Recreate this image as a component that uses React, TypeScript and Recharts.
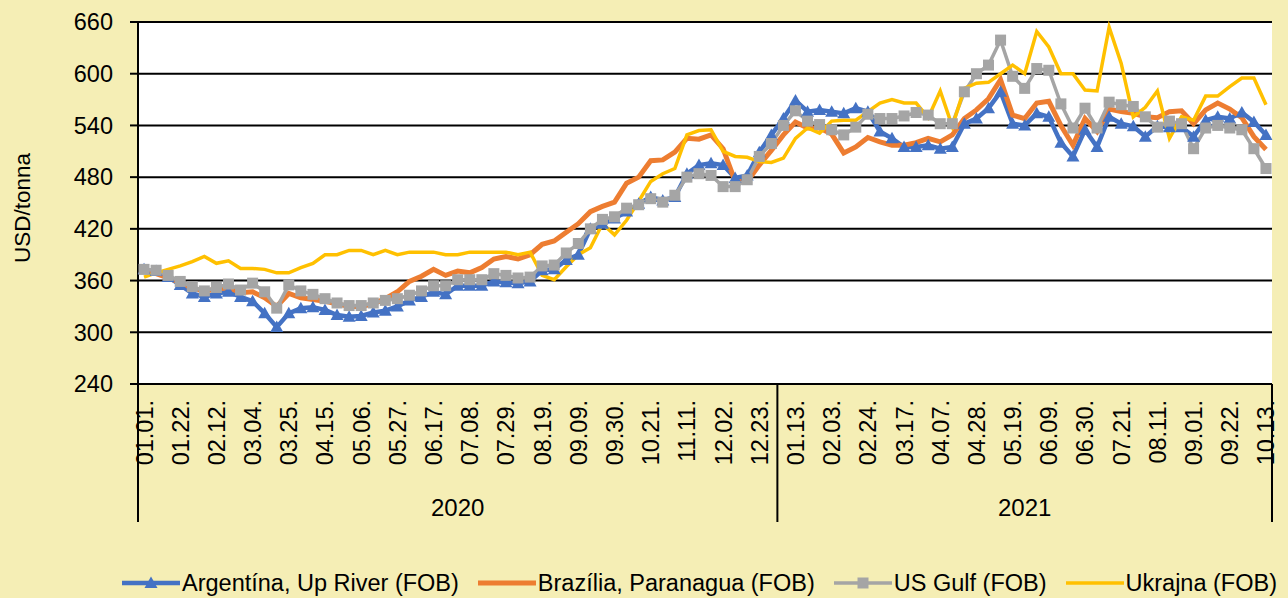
import {
  CartesianGrid,
  Label,
  Legend,
  Line,
  LineChart,
  XAxis,
  YAxis,
} from "recharts";

// weekly quotes, Wednesdays
const dates2020 = [
  "01.01.", "01.08.", "01.15.", "01.22.", "01.29.", "02.05.", "02.12.", "02.19.", "02.26.",
  "03.04.", "03.11.", "03.18.", "03.25.", "04.01.", "04.08.", "04.15.", "04.22.", "04.29.",
  "05.06.", "05.13.", "05.20.", "05.27.", "06.03.", "06.10.", "06.17.", "06.24.", "07.01.",
  "07.08.", "07.15.", "07.22.", "07.29.", "08.05.", "08.12.", "08.19.", "08.26.", "09.02.",
  "09.09.", "09.16.", "09.23.", "09.30.", "10.07.", "10.14.", "10.21.", "10.28.", "11.04.",
  "11.11.", "11.18.", "11.25.", "12.02.", "12.09.", "12.16.", "12.23.", "12.30.",
];
const dates2021 = [
  "01.06.", "01.13.", "01.20.", "01.27.", "02.03.", "02.10.", "02.17.", "02.24.", "03.03.",
  "03.10.", "03.17.", "03.24.", "03.31.", "04.07.", "04.14.", "04.21.", "04.28.", "05.05.",
  "05.12.", "05.19.", "05.26.", "06.02.", "06.09.", "06.16.", "06.23.", "06.30.", "07.07.",
  "07.14.", "07.21.", "07.28.", "08.04.", "08.11.", "08.18.", "08.25.", "09.01.", "09.08.",
  "09.15.", "09.22.", "09.29.", "10.06.", "10.13.",
];

const argentina = [
  373, 371, 364, 355, 345, 341, 345, 347, 341, 336, 322, 306, 322, 328, 329, 326, 320, 318, 319,
  323, 325, 330, 337, 341, 347, 344, 354, 354, 354, 359, 358, 357, 359, 372, 373, 384, 390, 420,
  426, 432, 440, 449, 457, 453, 457, 484, 494, 496, 494, 479, 482, 509, 529, 548, 569, 556, 558, 556,
  554, 560, 556, 533, 525, 515, 515, 517, 513, 515, 542, 548, 560, 579, 542, 540, 554, 550, 520,
  504, 535, 515, 550, 542, 539, 527, 539, 538, 538, 527, 546, 550, 548, 555, 544, 529,
];
const brazil = [
  372, 368, 363, 358, 351, 348, 350, 352, 346, 347, 340, 330, 345, 340, 338, 336, 333, 330, 330,
  333, 339, 347, 359, 365, 373, 366, 371, 369, 375, 385, 388, 385, 390, 402, 406, 416, 426, 440,
  446, 451, 473, 480, 499, 500, 509, 525, 524, 529, 513, 475, 475, 494, 511, 529, 544, 537, 537, 530,
  508, 515, 526, 521, 517, 517, 520, 525, 521, 529, 548, 558, 571, 593, 552, 548, 566, 568, 540,
  517, 548, 533, 559, 556, 554, 550, 549, 556, 557, 542, 558, 566, 559, 549, 527, 512,
];
const usGulf = [
  373, 372, 366, 359, 353, 348, 352, 356, 349, 357, 347, 328, 355, 348, 344, 339, 334, 331, 331,
  334, 337, 339, 343, 348, 354, 354, 361, 361, 361, 368, 366, 363, 364, 377, 378, 392, 403, 420,
  431, 434, 444, 448, 455, 451, 459, 480, 484, 482, 469, 469, 477, 504, 519, 540, 557, 545, 541, 535,
  529, 538, 553, 548, 548, 551, 555, 552, 542, 542, 579, 600, 610, 639, 597, 583, 606, 604, 565,
  537, 560, 537, 567, 564, 562, 550, 538, 545, 542, 513, 537, 540, 537, 535, 513, 490,
];
const ukraine = [
  364, 369, 373, 377, 382, 388, 380, 383, 374, 374, 373, 369, 369, 375, 380, 390, 390, 395, 395,
  390, 395, 390, 393, 393, 393, 390, 390, 393, 393, 393, 393, 390, 393, 366, 361, 376, 390, 398,
  426, 413, 430, 452, 475, 484, 490, 529, 534, 535, 510, 504, 503, 498, 497, 502, 525, 537, 531, 545,
  546, 546, 556, 566, 570, 566, 566, 549, 580, 539, 583, 589, 590, 600, 610, 600, 649, 631, 600,
  600, 581, 580, 654, 612, 550, 561, 580, 525, 550, 546, 574, 574, 585, 595, 595, 564,
];

const yTicks = [240, 300, 360, 420, 480, 540, 600, 660];

const years = [
  { year: "2020", dates: dates2020 },
  { year: "2021", dates: dates2021 },
];

const series = [
  { key: "arg", name: "Argentína, Up River (FOB)", color: "#4472C4", width: 4.5, marker: "triangle" },
  { key: "bra", name: "Brazília, Paranagua (FOB)", color: "#ED7D31", width: 5, marker: "none" },
  { key: "usg", name: "US Gulf (FOB)", color: "#A5A5A5", width: 3.5, marker: "square" },
  { key: "ukr", name: "Ukrajna (FOB)", color: "#FFC000", width: 3.5, marker: "none" },
];

const allDates = years.flatMap((y) => y.dates.map((d) => ({ date: d, year: y.year })));
const data = allDates.map((d, i) => ({
  ...d,
  arg: argentina[i],
  bra: brazil[i],
  usg: usGulf[i],
  ukr: ukraine[i],
}));

let start = 0;
const groups = years.map((y) => {
  const g = { year: y.year, start, end: start + y.dates.length - 1 };
  start += y.dates.length;
  return g;
});

const W = 1288;
const H = 598;
const MARGIN = { top: 22, right: 16, bottom: 0, left: 0 };
const Y_AXIS_W = 138;
const PLOT_W = W - MARGIN.left - MARGIN.right - Y_AXIS_W;
const DATE_AXIS_H = 100;
const YEAR_AXIS_H = 84;
const FONT = "'Liberation Sans', Arial, sans-serif";
const BG = "#F5EEB5";

function Triangle(props: any) {
  const { cx, cy, index, fill } = props;
  if (cx == null || cy == null) return null;
  return (
    <polygon
      key={`tri-${index}`}
      points={`${cx},${cy - 6.5} ${cx - 6.5},${cy + 5} ${cx + 6.5},${cy + 5}`}
      fill={fill}
    />
  );
}

function Square(props: any) {
  const { cx, cy, index, fill } = props;
  if (cx == null || cy == null) return null;
  return <rect key={`sq-${index}`} x={cx - 5.5} y={cy - 5.5} width={11} height={11} fill={fill} />;
}

function DateTick(props: any) {
  const { x, y, payload } = props;
  return (
    <text
      transform={`translate(${x},${y}) rotate(-90)`}
      textAnchor="end"
      dy="0.36em"
      fontSize={23.5}
      fill="#000"
      fontFamily={FONT}
    >
      {payload.value}
    </text>
  );
}

function YearTick(props: any) {
  const { x, y, payload } = props;
  const i = data.findIndex((d) => d.date === payload.value);
  const g = groups.find((gr) => i >= gr.start && i <= gr.end);
  if (!g) return null;
  const band = PLOT_W / data.length;
  const mid = Math.floor((g.start + g.end) / 2);
  const line = (lx: number, k: string) => (
    <line key={k} x1={lx} x2={lx} y1={y - DATE_AXIS_H} y2={y + 38} stroke="#000" strokeWidth={2} />
  );
  return (
    <g>
      {i === g.start && line(x - band / 2, "s")}
      {i === data.length - 1 && line(x + band / 2, "e")}
      {i === mid && (
        <text
          x={x + ((g.start + g.end) / 2 - i) * band}
          y={y + 32}
          textAnchor="middle"
          fontSize={24}
          fill="#000"
          fontFamily={FONT}
        >
          {g.year}
        </text>
      )}
    </g>
  );
}

function LegendIcon({ s }: { s: (typeof series)[number] }) {
  return (
    <svg width={58} height={20}>
      <line x1={0} x2={58} y1={10} y2={10} stroke={s.color} strokeWidth={s.width} />
      {s.marker === "triangle" && (
        <polygon points="29,3.5 22.5,15 35.5,15" fill={s.color} />
      )}
      {s.marker === "square" && <rect x={23.5} y={4.5} width={11} height={11} fill={s.color} />}
    </svg>
  );
}

function LegendContent() {
  return (
    <div
      style={{
        display: "flex",
        alignItems: "center",
        height: 30,
        paddingLeft: 122,
        fontSize: 23.5,
        fontFamily: FONT,
        color: "#000",
        whiteSpace: "nowrap",
      }}
    >
      {series.map((s) => (
        <div key={s.key} style={{ display: "flex", alignItems: "center", marginRight: 19 }}>
          <LegendIcon s={s} />
          <span style={{ marginLeft: 2 }}>{s.name}</span>
        </div>
      ))}
    </div>
  );
}

export default function App() {
  return (
    <div
      style={{
        position: "absolute",
        left: 0,
        top: 0,
        width: W,
        height: H,
        background: BG,
        fontFamily: FONT,
      }}
    >
      <LineChart width={W} height={H} data={data} margin={MARGIN}>
        <CartesianGrid vertical={false} stroke="#000" strokeWidth={2} fill="#fff" />
        <XAxis
          dataKey="date"
          scale="band"
          interval={2}
          height={DATE_AXIS_H}
          tickSize={0}
          tickMargin={16}
          tickLine={false}
          axisLine={{ stroke: "#000", strokeWidth: 2 }}
          tick={<DateTick />}
        />
        <XAxis
          xAxisId="year"
          dataKey="date"
          scale="band"
          interval={0}
          height={YEAR_AXIS_H}
          tickSize={0}
          tickMargin={0}
          tickLine={false}
          axisLine={false}
          tick={<YearTick />}
        />
        <YAxis
          width={Y_AXIS_W}
          domain={[240, 660]}
          ticks={yTicks}
          interval={0}
          tickSize={8}
          tickMargin={17}
          tick={{ fill: "#000", fontSize: 23.5, fontFamily: FONT }}
          tickLine={{ stroke: "#000", strokeWidth: 2 }}
          axisLine={{ stroke: "#000", strokeWidth: 2 }}
        >
          <Label
            content={(p: any) => {
              const vb = p.viewBox || { y: 22, height: 362 };
              const cy = vb.y + vb.height / 2 + 5;
              return (
                <text
                  transform={`translate(22,${cy}) rotate(-90)`}
                  textAnchor="middle"
                  dominantBaseline="central"
                  fontSize={22.5}
                  fill="#000"
                  fontFamily={FONT}
                >
                  USD/tonna
                </text>
              );
            }}
          />
        </YAxis>
        <Legend
          verticalAlign="bottom"
          content={<LegendContent />}
          wrapperStyle={{ left: 0, width: W, bottom: 0, height: 30 }}
        />
        {series.map((s) => (
          <Line
            key={s.key}
            dataKey={s.key}
            name={s.name}
            type="linear"
            stroke={s.color}
            strokeWidth={s.width}
            fill={s.color}
            dot={
              s.marker === "triangle"
                ? (p: any) => <Triangle {...p} key={`tri-${p.index}`} fill={s.color} />
                : s.marker === "square"
                ? (p: any) => <Square {...p} key={`sq-${p.index}`} fill={s.color} />
                : false
            }
            activeDot={false}
            isAnimationActive={false}
          />
        ))}
      </LineChart>
    </div>
  );
}
